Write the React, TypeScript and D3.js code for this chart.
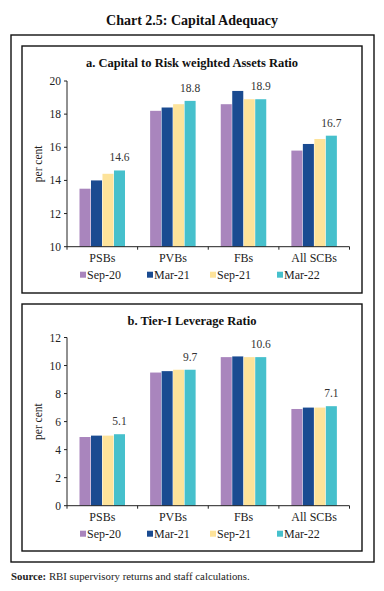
import * as d3 from 'd3';

const categories = ['PSBs', 'PVBs', 'FBs', 'All SCBs'];
const series = ['Sep-20', 'Mar-21', 'Sep-21', 'Mar-22'];
const colors = ['#a985bd', '#1a4b91', '#fde39a', '#46c0cc'];

// panel a: CRAR, rows = categories, cols = series
const crar = [
  [13.5, 14.0, 14.4, 14.6],
  [18.2, 18.4, 18.6, 18.8],
  [18.6, 19.4, 18.9, 18.9],
  [15.8, 16.2, 16.5, 16.7],
];
const crarTicks = [10, 12, 14, 16, 18, 20];

// panel b: Tier-I leverage ratio
const leverage = [
  [4.9, 5.0, 5.0, 5.1],
  [9.5, 9.6, 9.7, 9.7],
  [10.6, 10.65, 10.6, 10.6],
  [6.9, 7.0, 7.0, 7.1],
];
const leverageTicks = [0, 2, 4, 6, 8, 10, 12];

const FONT = '"Liberation Serif", serif';
const X0 = 67;
const X1 = 349.5;

function Panel({ top, boxBottom, title, values, ticks, yTop, yBottom }) {
  const x = d3.scaleBand().domain(categories).range([X0, X1]);
  const x1 = d3.scaleBand().domain(series).range([12.5, 58]).paddingInner(0.04);
  const y = d3.scaleLinear().domain([ticks[0], ticks[ticks.length - 1]]).range([yBottom, yTop]);
  const bounds = [X0, ...categories.map(c => x(c) + x.bandwidth())];
  const legendX = [80, 147, 210, 277];

  return (
    <g>
      <rect x={22} y={top} width={340} height={boxBottom - top} fill="none" stroke="#111" strokeWidth={1.4} />
      <text x={192} y={top + 21} textAnchor="middle" fontFamily={FONT} fontWeight="bold" fontSize={12.5} fill="#111">{title}</text>

      {/* y axis */}
      <line x1={X0} x2={X0} y1={yTop} y2={yBottom} stroke="#222" strokeWidth={1} />
      {ticks.map(t => (
        <g key={t}>
          <line x1={X0 - 3} x2={X0} y1={y(t)} y2={y(t)} stroke="#222" />
          <text x={X0 - 6} y={y(t)} dy="0.35em" textAnchor="end" fontFamily={FONT} fontSize={11.5} fill="#222">{t}</text>
        </g>
      ))}
      <text transform={`translate(42,${(yTop + yBottom) / 2}) rotate(-90)`} textAnchor="middle" fontFamily={FONT} fontSize={11.5} fill="#222">per cent</text>

      {/* bars */}
      {categories.map((c, i) => (
        <g key={c}>
          {series.map((s, j) => (
            <rect key={s} x={x(c) + x1(s)} y={y(values[i][j])} width={x1.bandwidth()}
              height={yBottom - y(values[i][j])} fill={colors[j]} />
          ))}
          <text x={x(c) + x1('Mar-22') + x1.bandwidth() / 2} y={y(values[i][3]) - 9} textAnchor="middle"
            fontFamily={FONT} fontSize={11.5} fill="#333">{values[i][3].toFixed(1)}</text>
        </g>
      ))}

      {/* x axis */}
      <line x1={X0} x2={X1} y1={yBottom} y2={yBottom} stroke="#222" strokeWidth={1} />
      {bounds.map((b, i) => (
        <line key={i} x1={b} x2={b} y1={yBottom} y2={yBottom + 3} stroke="#222" />
      ))}
      {categories.map(c => (
        <text key={c} x={x(c) + x.bandwidth() / 2} y={yBottom + 15} textAnchor="middle" fontFamily={FONT} fontSize={12} fill="#222">{c}</text>
      ))}

      {/* legend */}
      {series.map((s, j) => (
        <g key={s}>
          <rect x={legendX[j]} y={yBottom + 25} width={6} height={6} fill={colors[j]} />
          <text x={legendX[j] + 7} y={yBottom + 28} dy="0.35em" fontFamily={FONT} fontSize={12} fill="#222">{s}</text>
        </g>
      ))}
    </g>
  );
}

export default function App() {
  return (
    <svg width={384} height={591} style={{ position: 'absolute', left: 0, top: 0, background: '#fff' }}>
      <rect width={384} height={591} fill="#fff" />
      <text x={192} y={25} textAnchor="middle" fontFamily={FONT} fontWeight="bold" fontSize={14} fill="#111">Chart 2.5: Capital Adequacy</text>
      <rect x={11} y={35} width={363} height={527} fill="none" stroke="#111" strokeWidth={1.4} />

      <Panel top={46} boxBottom={293} title="a. Capital to Risk weighted Assets Ratio"
        values={crar} ticks={crarTicks} yTop={81} yBottom={246.7} />
      <Panel top={304} boxBottom={551} title="b. Tier-I Leverage Ratio"
        values={leverage} ticks={leverageTicks} yTop={337.5} yBottom={505.7} />

      <text x={11} y={580} fontFamily={FONT} fontSize={10.8} fill="#222">
        <tspan fontWeight="bold">Source:</tspan> RBI supervisory returns and staff calculations.
      </text>
    </svg>
  );
}
